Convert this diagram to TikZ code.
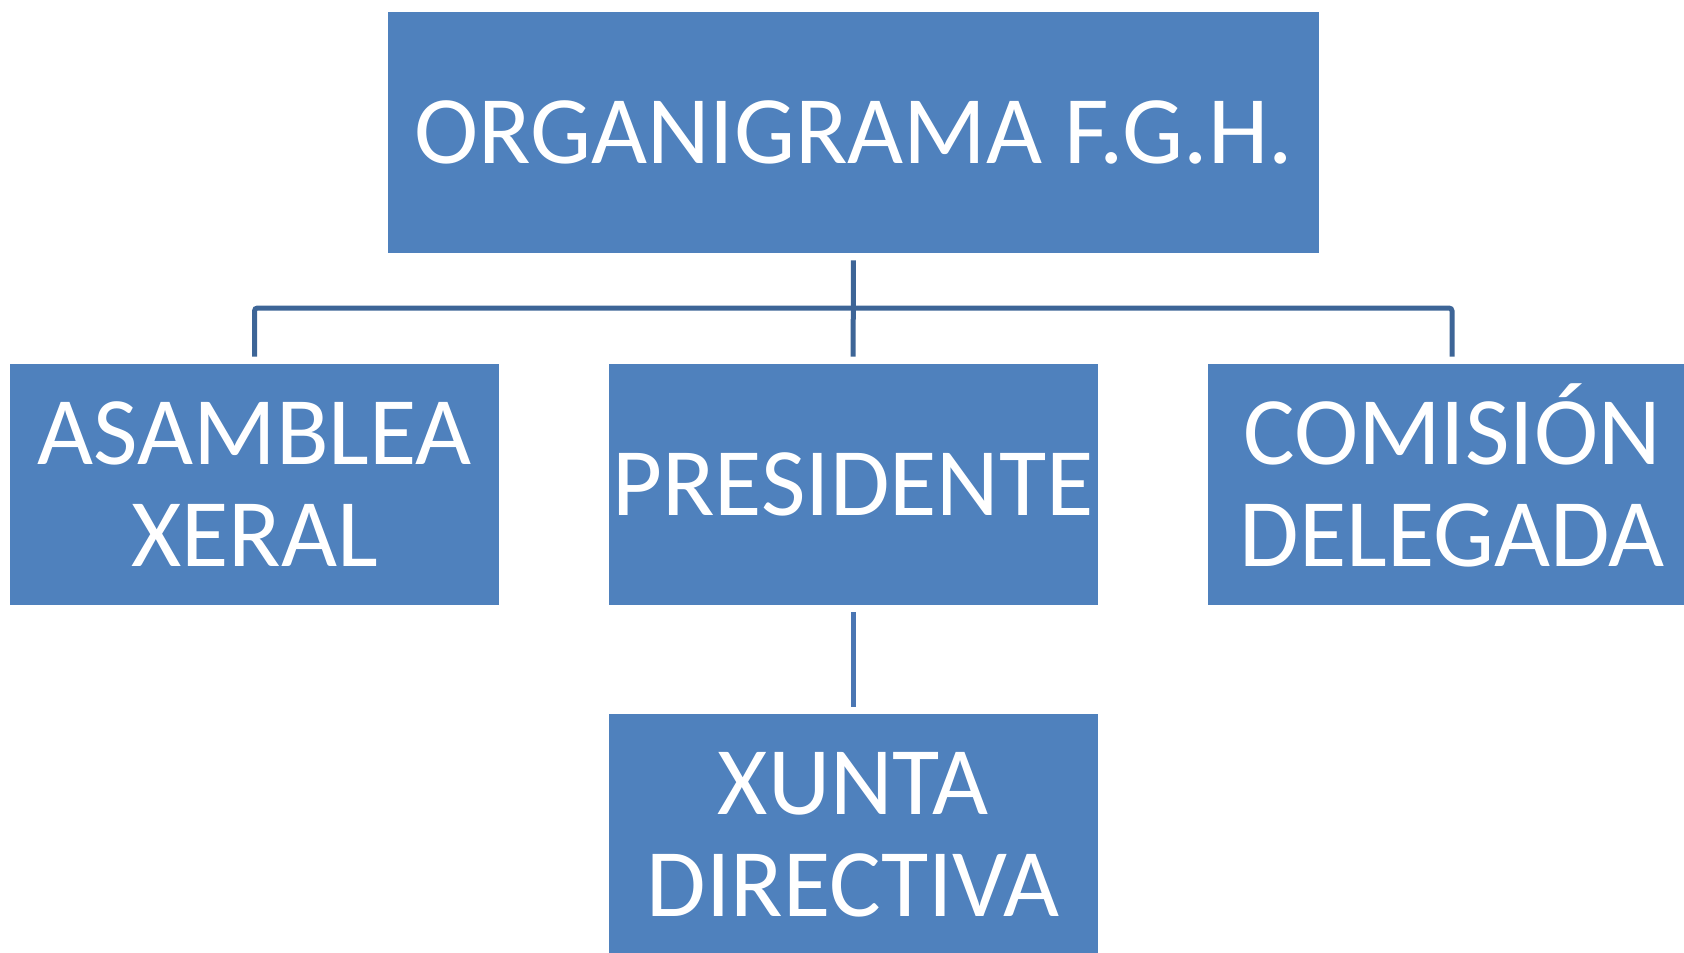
\documentclass[tikz,border=0pt]{standalone}
\usepackage{fontspec}
\setmainfont{Carlito}
\usepackage{tikz}
\usetikzlibrary{positioning}

\definecolor{boxblue}{HTML}{4F81BD}
\definecolor{linkblue}{HTML}{3D6597}
\definecolor{linklight}{HTML}{4A76B3}

\begin{document}
\begin{tikzpicture}
            [x=0.5pt, y=-0.5pt,
             unit/.style={rectangle, fill=boxblue, text=white, align=center,
                          minimum width=244.5pt, minimum height=120.5pt, inner sep=0pt,
                          font=\fontsize{48.4}{51}\selectfont},
             link/.style={draw=linkblue, line width=2.5pt, rounded corners=1.5pt,
                          shorten <=3.5pt, shorten >=3.5pt}]
            \useasboundingbox (0,0) rectangle (1684,952);
            \clip (0,0) rectangle (1684,952);

            \node[unit, minimum width=465.5pt] (title) at (853.5,132.5) {ORGANIGRAMA F.G.H.};
            \node[unit] (asamblea) at (254.5,484.5) {ASAMBLEA\\XERAL};
            \node[unit] (presidente) at (853,484.5) {PRESIDENTE};
            \node[unit] (comision) at (1452,484.5) {COMISI\smash{Ó}N\\DELEGADA};
            \node[unit] (xunta) at (853,834.5) {XUNTA\\DIRECTIVA};

            \coordinate (bus) at (853,308);

            \draw[link] (title) -- (presidente);
            \draw[link] (asamblea.north) |- (bus) -| (comision.north);
            \draw[link, draw=linklight] (presidente) -- (xunta);
        \end{tikzpicture}
\end{document}
